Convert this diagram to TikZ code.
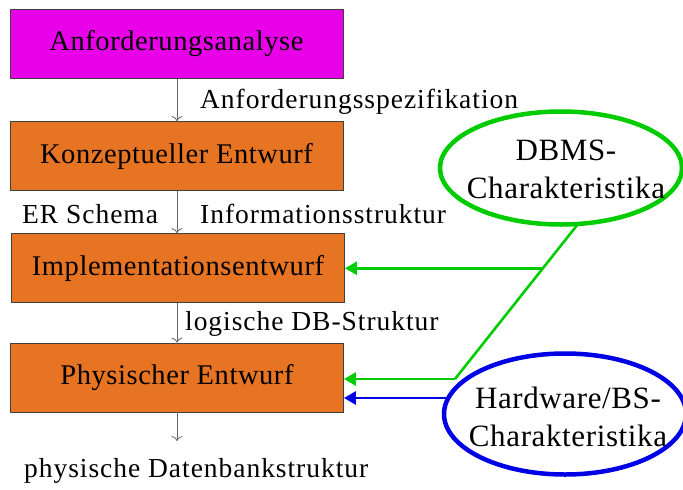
\documentclass[tikz,border=0pt]{standalone}
\usepackage{fontspec}
\setmainfont{Liberation Serif}
\newfontfamily\lblfont[LetterSpace=3.5]{Liberation Serif}
\newfontfamily\boxfont[LetterSpace=2]{Liberation Serif}
\newfontfamily\ellfont[LetterSpace=2]{Liberation Serif}
\usetikzlibrary{arrows.meta,shapes.geometric,calc}
\definecolor{boxorange}{RGB}{230,116,34}
\definecolor{boxmag}{RGB}{232,0,232}
\definecolor{lgreen}{RGB}{0,204,0}
\definecolor{lblue}{RGB}{0,0,230}
\begin{document}
\begin{tikzpicture}[x=1pt,y=-1pt,
  phase/.style={draw=black!75, line width=0.8pt, minimum width=333pt, minimum height=69pt, inner sep=0pt, font=\boxfont\fontsize{28.5}{32}\selectfont},
  flow/.style={draw=black!60, line width=0.8pt, -{To[length=5pt,width=11pt]}},
  lbl/.style={font=\lblfont\fontsize{27.5}{30}\selectfont, inner sep=0pt, anchor=base west},
  ell/.style={ellipse, line width=4.5pt, minimum width=242pt, inner sep=0pt},
  etext/.style={align=center, font=\ellfont\fontsize{31}{38}\selectfont, inner sep=0pt},
  feed/.style={line width=2.6pt, -{Triangle[length=12pt,width=13pt]}}]
\useasboundingbox (0,0) rectangle (683,490);
\node[phase, fill=boxmag] (ana) at (176.5,44) {Anforderungsanalyse};
\node[phase, fill=boxorange] (konz) at (176.5,156) {Konzeptueller Entwurf};
\node[phase, fill=boxorange] (impl) at (178,268) {Implementationsentwurf};
\node[phase, fill=boxorange] (phys) at (177,377.5) {Physischer Entwurf};
\coordinate (out) at (177,441);
\draw[flow] (ana.south -| out) -- (konz.north -| out);
\draw[flow] (konz.south -| out) -- (impl.north -| out);
\draw[flow] (impl.south -| out) -- (phys.north -| out);
\draw[flow] (phys.south -| out) -- (out);
\node[lbl] (l1) at (200,108) {Anforderungsspezifikation};
\node[lbl] (l2) at (22,223) {ER Schema};
\node[lbl] (l3) at (200,223) {Informationsstruktur};
\node[lbl] (l4) at (185,330) {logische DB-Struktur};
\node[lbl] (l5) at (24,477) {physische Datenbankstruktur};
\node[ell, draw=lgreen, minimum height=113pt] (dbms) at (561,168) {};
\node[etext] (dbmst) at (566,169) {DBMS-\\Charakteristika};
\node[ell, draw=lblue, minimum height=121pt] (hw) at (565,414) {};
\node[etext] (hwt) at (568,417) {Hardware/BS-\\Charakteristika};
\coordinate (g0) at (578,224);
\coordinate (gb) at (455,379);
\coordinate (gm) at ($(g0)!0.2857!(gb)$);
\coordinate (bl) at (447,398);
\draw[lgreen, line width=2.6pt] (g0) -- (gb);
\draw[feed, lgreen] (gb) -- (phys.east |- gb);
\draw[feed, lgreen] (gm) -- (impl.east |- gm);
\draw[feed, lblue] (bl) -- (phys.east |- bl);
\end{tikzpicture}
\end{document}
